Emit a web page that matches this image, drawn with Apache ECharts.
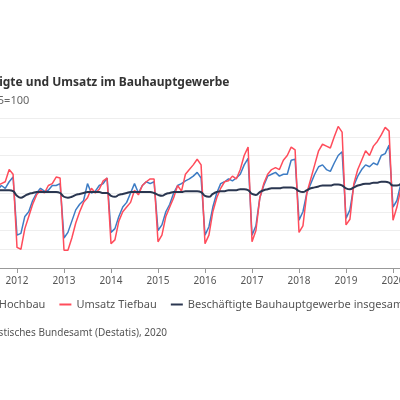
<!DOCTYPE html>
<html><head><meta charset="utf-8">
<script src="https://cdn.jsdelivr.net/npm/echarts@6/dist/echarts.min.js"></script>
<style>html,body{margin:0;padding:0;overflow:hidden;width:400px;height:400px;background:#fff}#c{position:absolute;left:-130px;top:0;width:553px;height:400px}</style>
</head><body><div id="c"></div>
<script>
const years=[2011,2012,2013,2014,2015,2016,2017,2018,2019,2020];
const tiefbau=[
[45,48,75,88,95,100,105,108,110,112,125,120],
[42,40,62,75,88,98,103,100,108,110,117,116],
[39,39,52,68,80,90,95,105,100,104,113,116],
[46,50,70,80,85,90,103,98,108,112,115,115],
[48,55,75,85,95,108,102,120,125,130,136,130],
[46,55,80,95,105,112,113,118,115,125,140,149],
[48,60,95,110,120,125,127,125,135,140,149,146],
[58,65,100,115,130,145,152,150,148,160,171,165],
[66,72,110,125,135,145,140,150,155,162,170,166],
[71,85,105]];
const hochbau=[
[60,62,85,92,98,100,102,103,108,105,112,117],
[55,57,75,80,92,100,105,102,103,108,108,110],
[52,58,70,82,88,92,110,100,102,108,110,116],
[58,62,75,85,90,100,110,100,108,112,110,112],
[60,66,80,88,100,108,110,113,115,118,122,116],
[55,64,85,100,110,112,115,113,116,120,130,137],
[55,65,95,108,118,120,122,118,120,120,135,136],
[71,80,100,110,120,128,130,125,123,132,140,144],
[73,82,108,118,125,130,128,132,130,140,142,151],
[85,92,110]];
const beschaeftigte=[
[100,99,101,102,103,103,103,103,103,103,103,102],
[97,95,97,99,100,101,101,101,101,101,101,100],
[96,95,96,98,99,100,101,101,101,101,100,100],
[97,96,98,99,100,101,101,101,101,101,101,100],
[98,97,99,100,101,101,101,102,102,102,102,101],
[97,96,99,101,102,102,103,103,103,104,104,103],
[99,98,101,103,104,105,105,105,106,106,106,105],
[102,101,103,105,106,107,108,108,108,109,109,108],
[105,104,106,108,109,110,110,111,111,112,112,111],
[108,108,110]];
const cats=[];
years.forEach(y=>{for(let m=1;m<=12;m++){if(y===2020&&m>6)break;cats.push(y+'-'+(m<10?'0':'')+m);}});
const flat=a=>a.reduce((r,x)=>r.concat(x),[]);
const ch=echarts.init(document.getElementById('c'));
const f='"Source Sans Pro","Noto Sans",sans-serif';
ch.setOption({
 animation:false,
 title:{text:'Beschäftigte und Umsatz im Bauhauptgewerbe',subtext:'Index 2015=100',left:72,top:72,
  textStyle:{fontSize:12,fontWeight:'bold',color:'#333',fontFamily:f},subtextStyle:{fontSize:11,color:'#666',fontFamily:f},itemGap:6},
 legend:{left:65,top:294,itemWidth:12,itemHeight:2,itemGap:14,icon:'rect',textStyle:{fontSize:11,color:'#555',fontFamily:f},
  data:['Umsatz Hochbau','Umsatz Tiefbau','Beschäftigte Bauhauptgewerbe insgesamt']},
 graphic:[{type:'text',left:72,top:328,style:{text:'Quelle: Statistisches Bundesamt (Destatis), 2020',fontSize:10,fill:'#555',fontFamily:f}}],
 grid:{left:100,right:10.4,top:118,bottom:132},
 xAxis:{type:'category',data:cats,boundaryGap:false,
  axisLine:{lineStyle:{color:'#999'}},axisTick:{interval:11,lineStyle:{color:'#999'}},
  axisLabel:{interval:11,formatter:v=>v.slice(0,4),color:'#555',fontSize:10,fontFamily:f}},
 yAxis:{type:'value',min:20,max:180,interval:20,axisLabel:{color:'#555',fontSize:10},splitLine:{lineStyle:{color:'#eee'}}},
 series:[
  {name:'Umsatz Hochbau',type:'line',data:flat(hochbau),showSymbol:false,lineStyle:{width:1.5,color:'#3d7cc4'},itemStyle:{color:'#3d7cc4'}},
  {name:'Umsatz Tiefbau',type:'line',data:flat(tiefbau),showSymbol:false,lineStyle:{width:1.5,color:'#ff4c5b'},itemStyle:{color:'#ff4c5b'}},
  {name:'Beschäftigte Bauhauptgewerbe insgesamt',type:'line',smooth:true,data:flat(beschaeftigte),showSymbol:false,lineStyle:{width:2,color:'#2a3650'},itemStyle:{color:'#2a3650'}}
 ]
});
</script></body></html>
